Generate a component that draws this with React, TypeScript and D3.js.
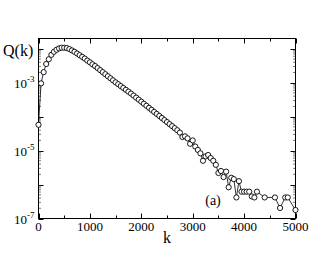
import React from 'react';
import * as d3 from 'd3';

// k positions of the plotted points (missing ones had Q = 0)
const kValues = [
  0, 50, 100, 150, 200, 250, 300, 350, 400, 450, 500, 550, 600, 650, 700, 750, 800, 850, 900, 950,
  1000, 1050, 1100, 1150, 1200, 1250, 1300, 1350, 1400, 1450, 1500, 1550, 1600, 1650, 1700, 1750,
  1800, 1850, 1900, 1950, 2000, 2050, 2100, 2150, 2200, 2250, 2300, 2350, 2400, 2450, 2500, 2550,
  2600, 2650, 2700, 2750, 2800, 2850, 2900, 2950, 3000, 3050, 3100, 3150, 3200, 3250, 3300, 3350,
  3400, 3450, 3500, 3550, 3600, 3650, 3700, 3750, 3800, 3850, 3900, 3950, 4000, 4050, 4100, 4150,
  4200, 4250, 4400, 4600, 4700, 4800, 4850, 5000,
];

// log10 Q(k)
const log10Q = [
  -4.24, -3.02, -2.69, -2.45, -2.31, -2.18, -2.09, -2.03, -1.99, -1.97, -1.97, -1.98, -2.01, -2.05, -2.09, -2.14, -2.19, -2.24, -2.29, -2.35,
  -2.40, -2.46, -2.51, -2.57, -2.63, -2.69, -2.75, -2.81, -2.87, -2.93, -2.99, -3.045, -3.10, -3.155, -3.21, -3.265,
  -3.32, -3.38, -3.44, -3.50, -3.56, -3.62, -3.68, -3.74, -3.80, -3.86, -3.92, -3.98, -4.04, -4.10, -4.16, -4.22,
  -4.28, -4.34, -4.40, -4.47, -4.60, -4.58, -4.64, -4.80, -4.70, -4.88, -4.98, -5.08, -5.30, -5.17, -5.13, -5.22,
  -5.30, -5.42, -5.66, -5.60, -5.78, -5.62, -6.08, -5.80, -5.84, -6.38, -5.90, -6.21, -6.21, -6.21, -6.21, -6.35,
  -6.38, -6.21, -6.38, -6.38, -6.69, -6.38, -6.38, -6.75,
];

const xMajorTicks = [0, 1000, 2000, 3000, 4000, 5000];
const xMinorTicks = [500, 1500, 2500, 3500, 4500];
const yLabelExponents = [-3, -5, -7];

const font = '"Liberation Serif", "DejaVu Serif", serif';

const App: React.FC = () => {
  const width = 332;
  const height = 257;
  const left = 38.5;
  const right = 295.5;
  const top = 38.5;
  const bottom = 218.5;

  const x = d3.scaleLinear().domain([0, 5000]).range([left, right]);
  const y = d3.scaleLog().domain([1e-7, 0.02]).range([bottom, top]);

  const data = kValues.map((k, i) => ({ k, q: Math.pow(10, log10Q[i]) }));

  const line = d3
    .line<{ k: number; q: number }>()
    .x(d => x(d.k))
    .y(d => y(d.q));

  // decade and sub-decade ticks for the log axis
  const yMajor: number[] = [];
  const yMinor: number[] = [];
  for (let e = -7; e <= -2; e++) {
    yMajor.push(Math.pow(10, e));
    for (let m = 2; m <= 9; m++) {
      const v = m * Math.pow(10, e);
      if (v <= 0.02) yMinor.push(v);
    }
  }

  return (
    <svg
      width={width}
      height={height}
      style={{ position: 'absolute', left: 0, top: 0, background: '#fff' }}
    >
      <rect x={0} y={0} width={width} height={height} fill="#fff" />

      {/* x ticks, bottom and top, pointing inward */}
      {xMajorTicks.map(t => (
        <g key={'xM' + t} stroke="#000" strokeWidth={1}>
          <line x1={Math.round(x(t)) + 0.5} x2={Math.round(x(t)) + 0.5} y1={bottom} y2={bottom - 5} />
          <line x1={Math.round(x(t)) + 0.5} x2={Math.round(x(t)) + 0.5} y1={top} y2={top + 5} />
        </g>
      ))}
      {xMinorTicks.map(t => (
        <g key={'xm' + t} stroke="#000" strokeWidth={1}>
          <line x1={Math.round(x(t)) + 0.5} x2={Math.round(x(t)) + 0.5} y1={bottom} y2={bottom - 3} />
          <line x1={Math.round(x(t)) + 0.5} x2={Math.round(x(t)) + 0.5} y1={top} y2={top + 3} />
        </g>
      ))}

      {/* y ticks, left and right */}
      {yMajor.map(t => (
        <g key={'yM' + t} stroke="#000" strokeWidth={1}>
          <line x1={left} x2={left + 5} y1={Math.round(y(t)) + 0.5} y2={Math.round(y(t)) + 0.5} />
          <line x1={right} x2={right - 5} y1={Math.round(y(t)) + 0.5} y2={Math.round(y(t)) + 0.5} />
        </g>
      ))}
      {yMinor.map(t => (
        <g key={'ym' + t} stroke="#555" strokeWidth={0.8}>
          <line x1={left} x2={left + 2.5} y1={y(t)} y2={y(t)} />
          <line x1={right} x2={right - 2.5} y1={y(t)} y2={y(t)} />
        </g>
      ))}

      {/* frame */}
      <rect x={left} y={top} width={right - left} height={bottom - top} fill="none" stroke="#000" strokeWidth={1} />

      {/* x tick labels */}
      {xMajorTicks.map(t => (
        <text
          key={'xl' + t}
          x={x(t)}
          y={bottom + 12}
          textAnchor="middle"
          fontFamily={font}
          fontSize={13}
          fill="#000"
        >
          {t}
        </text>
      ))}

      {/* y tick labels */}
      {yLabelExponents.map(e => (
        <text
          key={'yl' + e}
          x={left - 4}
          y={y(Math.pow(10, e)) + 5}
          textAnchor="end"
          fontFamily={font}
          fontSize={13}
          fill="#000"
        >
          10
          <tspan fontSize={9} dy={-6}>
            {'-' + Math.abs(e)}
          </tspan>
        </text>
      ))}

      {/* data */}
      <path d={line(data) || ''} fill="none" stroke="#000" strokeWidth={0.8} />
      {data.map((d, i) => (
        <circle key={i} cx={x(d.k)} cy={y(d.q)} r={2.6} fill="#fff" stroke="#000" strokeWidth={0.9} />
      ))}

      {/* axis titles */}
      <text x={3} y={56} fontFamily={font} fontSize={16} fill="#000">
        Q(k)
      </text>
      <text x={167} y={243} textAnchor="middle" fontFamily={font} fontSize={16} fill="#000">
        k
      </text>
      <text x={213} y={205} textAnchor="middle" fontFamily={font} fontSize={14} fill="#000">
        (a)
      </text>
    </svg>
  );
};

export default App;
